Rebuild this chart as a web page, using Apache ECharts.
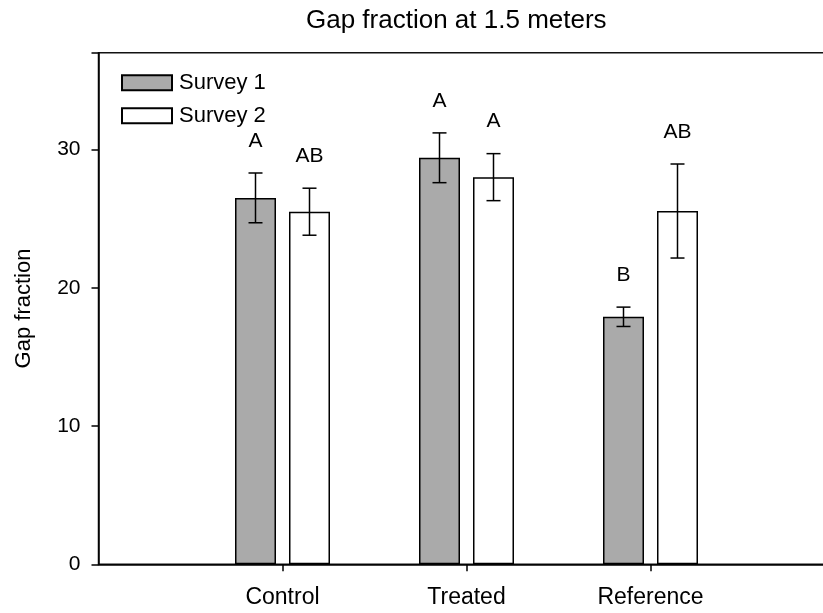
<!DOCTYPE html>
<html>
<head>
<meta charset="utf-8">
<script src="https://cdn.jsdelivr.net/npm/echarts@6/dist/echarts.min.js"></script>
<style>
  html, body { margin: 0; padding: 0; background: #fff; }
  #chart { width: 823px; height: 613px; }
</style>
</head>
<body>
<div id="chart"></div>
<script>
// Sites and the two survey rounds
const categories = ['Control', 'Treated', 'Reference'];
const seriesNames = ['Survey 1', 'Survey 2'];

// Mean gap fraction and standard error per site
const survey1Mean = [26.5, 29.4, 17.9];
const survey1Err  = [1.8, 1.8, 0.7];
const survey2Mean = [25.5, 28.0, 25.55];
const survey2Err  = [1.7, 1.7, 3.4];

// Significance letters above each bar
const survey1Letters = ['A', 'A', 'B'];
const survey2Letters = ['AB', 'A', 'AB'];

const yTicks = [0, 10, 20, 30];

const FONT = '"Liberation Sans", Arial, sans-serif';

// Axis slots: an empty slot on each side keeps the sites spaced like the frame
const axisCats = [''].concat(categories, ['']);
const pad = arr => [null].concat(arr, [null]);

function errorSeries(name, means, errs, letters, dx) {
  return {
    type: 'custom',
    name: name + ' error',
    z: 5,
    silent: true,
    data: means.map((m, i) => [i + 1, m, errs[i]]),
    renderItem: function (params, api) {
      const x = api.value(0), m = api.value(1), e = api.value(2);
      const top = api.coord([x, m + e]);
      const bot = api.coord([x, m - e]);
      const cx = top[0] + dx;
      const cap = 7;
      const style = { stroke: '#000', lineWidth: 1.5 };
      return {
        type: 'group',
        children: [
          { type: 'line', shape: { x1: cx, y1: top[1], x2: cx, y2: bot[1] }, style: style },
          { type: 'line', shape: { x1: cx - cap, y1: top[1], x2: cx + cap, y2: top[1] }, style: style },
          { type: 'line', shape: { x1: cx - cap, y1: bot[1], x2: cx + cap, y2: bot[1] }, style: style },
          { type: 'text', x: cx, y: top[1] - 32,
            style: { text: letters[params.dataIndex], fill: '#000', font: '21px ' + FONT,
                     align: 'center', verticalAlign: 'middle' } }
        ]
      };
    }
  };
}

const chart = echarts.init(document.getElementById('chart'), null, { renderer: 'canvas' });

chart.setOption({
  backgroundColor: '#fff',
  animation: false,
  textStyle: { fontFamily: FONT, color: '#000' },
  title: {
    text: 'Gap fraction at 1.5 meters',
    left: 306,
    top: 8,
    padding: 0,
    textStyle: { fontSize: 26, fontWeight: 'normal', color: '#000', fontFamily: FONT }
  },
  legend: {
    orient: 'vertical',
    left: 121,
    top: 71.7,
    padding: 0,
    itemWidth: 50,
    itemHeight: 15,
    itemGap: 11,
    icon: 'rect',
    data: seriesNames,
    textStyle: { fontSize: 22, color: '#000', fontFamily: FONT, lineHeight: 15, padding: [0, 0, 0, 2] }
  },
  grid: {
    left: 98.5,
    top: 52.7,
    width: 736,
    height: 511.6,
    show: true,
    borderColor: '#111',
    borderWidth: 1.5,
    backgroundColor: 'transparent',
    outerBoundsMode: 'none'
  },
  xAxis: {
    type: 'category',
    data: axisCats,
    boundaryGap: false,
    axisLine: { lineStyle: { color: '#000', width: 1.5 } },
    axisTick: {
      length: 7,
      lineStyle: { color: '#000', width: 1.5 },
      interval: (i, v) => v !== ''
    },
    axisLabel: { interval: 0, fontSize: 23, color: '#000', margin: 22, fontFamily: FONT }
  },
  yAxis: {
    type: 'value',
    min: 0,
    max: 37,
    interval: 10,
    name: 'Gap fraction',
    nameLocation: 'middle',
    nameGap: 64,
    nameTextStyle: { fontSize: 22, color: '#000', fontFamily: FONT },
    splitLine: { show: false },
    axisLine: { show: true, lineStyle: { color: '#000', width: 1.5 } },
    axisTick: { show: true, length: 7, lineStyle: { color: '#000', width: 1.5 } },
    axisLabel: {
      fontSize: 21, color: '#000', margin: 18, fontFamily: FONT,
      formatter: v => (yTicks.indexOf(v) >= 0 ? String(v) : '')
    }
  },
  series: [
    {
      name: seriesNames[0],
      type: 'bar',
      data: pad(survey1Mean),
      barWidth: 41,
      barGap: '31.7%',
      itemStyle: { color: '#aaaaaa', borderColor: '#000', borderWidth: 1.5 }
    },
    {
      name: seriesNames[1],
      type: 'bar',
      data: pad(survey2Mean),
      barWidth: 41,
      barGap: '31.7%',
      itemStyle: { color: '#ffffff', borderColor: '#000', borderWidth: 1.5 }
    },
    errorSeries(seriesNames[0], survey1Mean, survey1Err, survey1Letters, -27),
    errorSeries(seriesNames[1], survey2Mean, survey2Err, survey2Letters, 27)
  ]
});
</script>
</body>
</html>
